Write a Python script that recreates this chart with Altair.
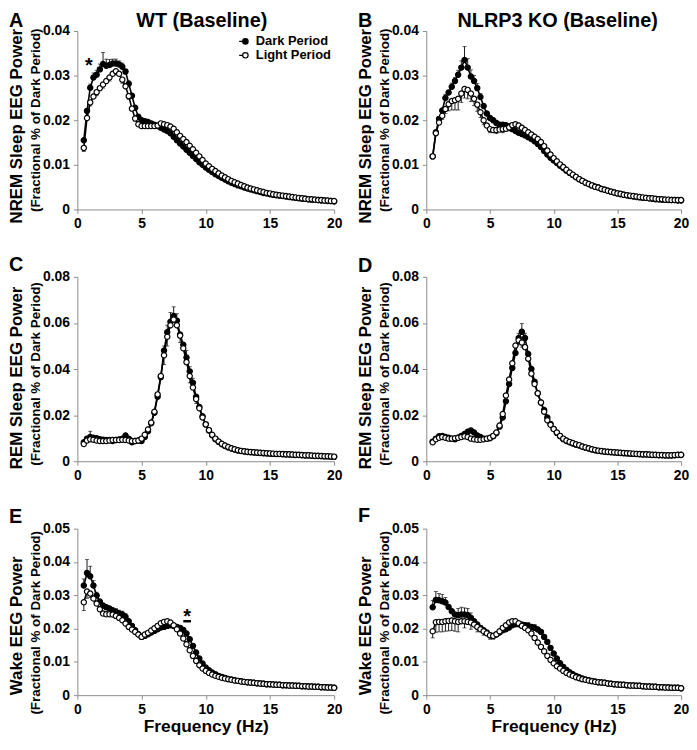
import altair as alt
import pandas as pd

FONT = "Liberation Sans"
PERIODS = ["Dark Period", "Light Period"]

FREQ = [0.5, 0.75, 1.0, 1.25, 1.5, 1.75, 2.0, 2.25, 2.5, 2.75,
        3.0, 3.25, 3.5, 3.75, 4.0, 4.25, 4.5, 4.75, 5.0, 5.25,
        5.5, 5.75, 6.0, 6.25, 6.5, 6.75, 7.0, 7.25, 7.5, 7.75,
        8.0, 8.25, 8.5, 8.75, 9.0, 9.25, 9.5, 9.75, 10.0, 10.25,
        10.5, 10.75, 11.0, 11.25, 11.5, 11.75, 12.0, 12.25, 12.5, 12.75,
        13.0, 13.25, 13.5, 13.75, 14.0, 14.25, 14.5, 14.75, 15.0, 15.25,
        15.5, 15.75, 16.0, 16.25, 16.5, 16.75, 17.0, 17.25, 17.5, 17.75,
        18.0, 18.25, 18.5, 18.75, 19.0, 19.25, 19.5, 19.75, 20.0]

NREM_WT_DARK = [0.0155, 0.0221, 0.0273, 0.0296, 0.0302, 0.0314, 0.0326, 0.0322, 0.0324, 0.0327,
                0.0327, 0.0325, 0.0320, 0.0309, 0.0282, 0.0255, 0.0228, 0.0208, 0.0200, 0.0198,
                0.0196, 0.0193, 0.0190, 0.0187, 0.0183, 0.0179, 0.0176, 0.0171, 0.0163, 0.0155,
                0.0148, 0.0141, 0.0134, 0.0127, 0.0120, 0.0113, 0.0106, 0.0100, 0.0094, 0.0089,
                0.0084, 0.0079, 0.0075, 0.0071, 0.0067, 0.0063, 0.0060, 0.0057, 0.0054, 0.0052,
                0.0049, 0.0047, 0.0045, 0.0043, 0.0041, 0.0039, 0.0037, 0.0036, 0.0034, 0.0033,
                0.0032, 0.0031, 0.0030, 0.0029, 0.0028, 0.0027, 0.0026, 0.0025, 0.0024, 0.0024,
                0.0023, 0.0022, 0.0022, 0.0021, 0.0020, 0.0020, 0.0019, 0.0019, 0.0018]
NREM_WT_LIGHT = [0.0138, 0.0205, 0.0240, 0.0253, 0.0263, 0.0272, 0.0280, 0.0288, 0.0296, 0.0304,
                 0.0310, 0.0304, 0.0291, 0.0276, 0.0254, 0.0226, 0.0204, 0.0191, 0.0187, 0.0187,
                 0.0187, 0.0187, 0.0187, 0.0188, 0.0193, 0.0191, 0.0189, 0.0186, 0.0181, 0.0173,
                 0.0165, 0.0158, 0.0151, 0.0143, 0.0135, 0.0127, 0.0119, 0.0111, 0.0103, 0.0097,
                 0.0091, 0.0086, 0.0081, 0.0076, 0.0072, 0.0068, 0.0064, 0.0061, 0.0058, 0.0055,
                 0.0052, 0.0049, 0.0047, 0.0045, 0.0043, 0.0041, 0.0039, 0.0037, 0.0036, 0.0034,
                 0.0033, 0.0032, 0.0031, 0.0030, 0.0029, 0.0028, 0.0027, 0.0026, 0.0025, 0.0024,
                 0.0023, 0.0023, 0.0022, 0.0021, 0.0021, 0.0020, 0.0020, 0.0019, 0.0019]

NREM_KO_DARK = [0.0119, 0.0173, 0.0203, 0.0222, 0.0250, 0.0262, 0.0275, 0.0288, 0.0302, 0.0318,
                0.0335, 0.0318, 0.0298, 0.0288, 0.0272, 0.0252, 0.0232, 0.0215, 0.0205, 0.0200,
                0.0194, 0.0190, 0.0190, 0.0189, 0.0186, 0.0180, 0.0176, 0.0172, 0.0169, 0.0166,
                0.0162, 0.0158, 0.0153, 0.0147, 0.0140, 0.0131, 0.0123, 0.0116, 0.0110, 0.0104,
                0.0098, 0.0093, 0.0087, 0.0082, 0.0077, 0.0072, 0.0068, 0.0064, 0.0060, 0.0057,
                0.0054, 0.0051, 0.0049, 0.0046, 0.0044, 0.0042, 0.0040, 0.0038, 0.0036, 0.0034,
                0.0033, 0.0032, 0.0030, 0.0029, 0.0028, 0.0027, 0.0026, 0.0026, 0.0025, 0.0024,
                0.0023, 0.0023, 0.0022, 0.0022, 0.0021, 0.0021, 0.0021, 0.0020, 0.0020]
NREM_KO_LIGHT = [0.0119, 0.0171, 0.0195, 0.0210, 0.0225, 0.0236, 0.0243, 0.0245, 0.0248, 0.0260,
                 0.0270, 0.0268, 0.0260, 0.0248, 0.0235, 0.0218, 0.0200, 0.0188, 0.0180, 0.0178,
                 0.0178, 0.0179, 0.0180, 0.0181, 0.0184, 0.0189, 0.0191, 0.0188, 0.0183, 0.0178,
                 0.0173, 0.0168, 0.0163, 0.0158, 0.0151, 0.0142, 0.0132, 0.0123, 0.0115, 0.0108,
                 0.0101, 0.0095, 0.0089, 0.0083, 0.0078, 0.0073, 0.0068, 0.0064, 0.0060, 0.0057,
                 0.0054, 0.0051, 0.0049, 0.0046, 0.0044, 0.0042, 0.0040, 0.0038, 0.0036, 0.0035,
                 0.0033, 0.0032, 0.0031, 0.0030, 0.0029, 0.0028, 0.0027, 0.0026, 0.0025, 0.0025,
                 0.0024, 0.0023, 0.0023, 0.0022, 0.0022, 0.0021, 0.0021, 0.0021, 0.0021]

REM_WT_DARK = [0.0082, 0.0098, 0.0105, 0.0102, 0.0100, 0.0095, 0.0093, 0.0092, 0.0092, 0.0088,
               0.0092, 0.0094, 0.0098, 0.0112, 0.0098, 0.0082, 0.0088, 0.0090, 0.0088, 0.0105,
               0.0130, 0.0165, 0.0210, 0.0280, 0.0365, 0.0480, 0.0560, 0.0605, 0.0630, 0.0610,
               0.0550, 0.0505, 0.0450, 0.0390, 0.0340, 0.0280, 0.0235, 0.0195, 0.0160, 0.0133,
               0.0113, 0.0096, 0.0084, 0.0074, 0.0066, 0.0060, 0.0055, 0.0051, 0.0047, 0.0044,
               0.0042, 0.0040, 0.0039, 0.0038, 0.0037, 0.0036, 0.0035, 0.0034, 0.0033, 0.0032,
               0.0031, 0.0031, 0.0030, 0.0029, 0.0029, 0.0028, 0.0027, 0.0027, 0.0026, 0.0025,
               0.0025, 0.0024, 0.0023, 0.0023, 0.0022, 0.0021, 0.0021, 0.0020, 0.0019]
REM_WT_LIGHT = [0.0075, 0.0090, 0.0095, 0.0093, 0.0090, 0.0088, 0.0088, 0.0088, 0.0090, 0.0092,
                0.0092, 0.0092, 0.0093, 0.0092, 0.0090, 0.0088, 0.0088, 0.0090, 0.0098, 0.0115,
                0.0138, 0.0168, 0.0215, 0.0290, 0.0370, 0.0460, 0.0540, 0.0590, 0.0615, 0.0590,
                0.0545, 0.0490, 0.0430, 0.0370, 0.0320, 0.0270, 0.0230, 0.0190, 0.0160, 0.0135,
                0.0115, 0.0098, 0.0086, 0.0076, 0.0068, 0.0062, 0.0056, 0.0052, 0.0048, 0.0045,
                0.0043, 0.0041, 0.0040, 0.0039, 0.0038, 0.0037, 0.0036, 0.0035, 0.0034, 0.0033,
                0.0032, 0.0032, 0.0031, 0.0030, 0.0030, 0.0029, 0.0028, 0.0028, 0.0027, 0.0026,
                0.0026, 0.0025, 0.0024, 0.0024, 0.0023, 0.0022, 0.0022, 0.0021, 0.0020]

REM_KO_DARK = [0.0085, 0.0098, 0.0108, 0.0110, 0.0105, 0.0102, 0.0098, 0.0095, 0.0102, 0.0110,
               0.0118, 0.0128, 0.0133, 0.0125, 0.0112, 0.0105, 0.0098, 0.0098, 0.0100, 0.0108,
               0.0122, 0.0150, 0.0190, 0.0260, 0.0335, 0.0405, 0.0470, 0.0535, 0.0562, 0.0535,
               0.0465, 0.0400, 0.0345, 0.0295, 0.0255, 0.0222, 0.0190, 0.0162, 0.0140, 0.0123,
               0.0108, 0.0096, 0.0088, 0.0082, 0.0077, 0.0072, 0.0068, 0.0063, 0.0059, 0.0055,
               0.0051, 0.0048, 0.0045, 0.0043, 0.0041, 0.0040, 0.0039, 0.0038, 0.0037, 0.0036,
               0.0035, 0.0034, 0.0033, 0.0032, 0.0031, 0.0030, 0.0029, 0.0029, 0.0028, 0.0027,
               0.0027, 0.0026, 0.0026, 0.0025, 0.0025, 0.0025, 0.0026, 0.0027, 0.0027]
REM_KO_LIGHT = [0.0082, 0.0095, 0.0102, 0.0105, 0.0102, 0.0098, 0.0098, 0.0100, 0.0102, 0.0105,
                0.0108, 0.0105, 0.0098, 0.0095, 0.0093, 0.0093, 0.0095, 0.0098, 0.0102, 0.0110,
                0.0125, 0.0155, 0.0205, 0.0285, 0.0355, 0.0425, 0.0502, 0.0525, 0.0515, 0.0495,
                0.0445, 0.0380, 0.0335, 0.0295, 0.0255, 0.0215, 0.0178, 0.0158, 0.0140, 0.0125,
                0.0110, 0.0098, 0.0090, 0.0084, 0.0079, 0.0074, 0.0070, 0.0064, 0.0060, 0.0056,
                0.0052, 0.0049, 0.0046, 0.0044, 0.0042, 0.0041, 0.0040, 0.0039, 0.0038, 0.0037,
                0.0036, 0.0035, 0.0034, 0.0033, 0.0032, 0.0031, 0.0030, 0.0030, 0.0029, 0.0028,
                0.0028, 0.0027, 0.0027, 0.0026, 0.0026, 0.0026, 0.0027, 0.0028, 0.0028]

WAKE_WT_DARK = [0.0329, 0.0367, 0.0357, 0.0329, 0.0299, 0.0281, 0.0269, 0.0264, 0.0260, 0.0255,
                0.0250, 0.0245, 0.0242, 0.0235, 0.0222, 0.0208, 0.0195, 0.0183, 0.0175, 0.0178,
                0.0183, 0.0188, 0.0193, 0.0198, 0.0203, 0.0205, 0.0208, 0.0210, 0.0208, 0.0205,
                0.0202, 0.0196, 0.0185, 0.0168, 0.0148, 0.0128, 0.0110, 0.0095, 0.0083, 0.0075,
                0.0068, 0.0063, 0.0058, 0.0055, 0.0052, 0.0049, 0.0047, 0.0045, 0.0043, 0.0042,
                0.0040, 0.0039, 0.0038, 0.0037, 0.0036, 0.0035, 0.0034, 0.0033, 0.0033, 0.0032,
                0.0031, 0.0031, 0.0030, 0.0030, 0.0029, 0.0029, 0.0028, 0.0028, 0.0027, 0.0027,
                0.0026, 0.0026, 0.0025, 0.0025, 0.0024, 0.0024, 0.0023, 0.0023, 0.0022]
WAKE_WT_LIGHT = [0.0279, 0.0311, 0.0305, 0.0290, 0.0275, 0.0258, 0.0245, 0.0243, 0.0243, 0.0242,
                 0.0238, 0.0232, 0.0225, 0.0215, 0.0205, 0.0197, 0.0190, 0.0182, 0.0175, 0.0182,
                 0.0187, 0.0194, 0.0201, 0.0208, 0.0216, 0.0220, 0.0222, 0.0218, 0.0210, 0.0198,
                 0.0185, 0.0170, 0.0153, 0.0135, 0.0118, 0.0103, 0.0090, 0.0080, 0.0073, 0.0067,
                 0.0062, 0.0058, 0.0055, 0.0052, 0.0050, 0.0048, 0.0046, 0.0044, 0.0043, 0.0041,
                 0.0040, 0.0039, 0.0038, 0.0037, 0.0036, 0.0035, 0.0034, 0.0033, 0.0033, 0.0032,
                 0.0031, 0.0031, 0.0030, 0.0030, 0.0029, 0.0029, 0.0028, 0.0028, 0.0027, 0.0027,
                 0.0026, 0.0026, 0.0025, 0.0025, 0.0024, 0.0024, 0.0023, 0.0023, 0.0022]

WAKE_KO_DARK = [0.0264, 0.0286, 0.0285, 0.0282, 0.0278, 0.0265, 0.0252, 0.0242, 0.0240, 0.0242,
                0.0242, 0.0240, 0.0232, 0.0222, 0.0212, 0.0202, 0.0195, 0.0188, 0.0180, 0.0178,
                0.0182, 0.0188, 0.0195, 0.0198, 0.0203, 0.0210, 0.0213, 0.0213, 0.0212, 0.0210,
                0.0208, 0.0205, 0.0202, 0.0197, 0.0190, 0.0175, 0.0160, 0.0142, 0.0125, 0.0110,
                0.0096, 0.0085, 0.0076, 0.0069, 0.0063, 0.0058, 0.0054, 0.0050, 0.0047, 0.0045,
                0.0043, 0.0041, 0.0039, 0.0038, 0.0037, 0.0035, 0.0034, 0.0033, 0.0032, 0.0031,
                0.0031, 0.0030, 0.0029, 0.0029, 0.0028, 0.0028, 0.0027, 0.0026, 0.0026, 0.0025,
                0.0025, 0.0024, 0.0024, 0.0023, 0.0023, 0.0022, 0.0022, 0.0022, 0.0021]
WAKE_KO_LIGHT = [0.0192, 0.0219, 0.0220, 0.0220, 0.0222, 0.0223, 0.0224, 0.0222, 0.0220, 0.0222,
                 0.0222, 0.0220, 0.0218, 0.0212, 0.0205, 0.0198, 0.0192, 0.0186, 0.0180, 0.0178,
                 0.0183, 0.0192, 0.0202, 0.0210, 0.0218, 0.0222, 0.0222, 0.0216, 0.0208, 0.0202,
                 0.0195, 0.0185, 0.0172, 0.0158, 0.0145, 0.0132, 0.0118, 0.0106, 0.0096, 0.0087,
                 0.0080, 0.0073, 0.0067, 0.0062, 0.0058, 0.0054, 0.0051, 0.0048, 0.0046, 0.0044,
                 0.0042, 0.0040, 0.0039, 0.0038, 0.0037, 0.0035, 0.0034, 0.0033, 0.0032, 0.0031,
                 0.0031, 0.0030, 0.0029, 0.0029, 0.0028, 0.0028, 0.0027, 0.0026, 0.0026, 0.0025,
                 0.0025, 0.0024, 0.0024, 0.0023, 0.0023, 0.0022, 0.0022, 0.0022, 0.0021]

# SEM error bars (frequency, SEM); dark period drawn upward, light period downward
ERR_NREM_WT_DARK = [(1.0, 0.0008), (1.25, 0.001), (1.5, 0.001), (1.75, 0.0012), (2.0, 0.0026),
                    (2.25, 0.0015), (2.5, 0.0012), (2.75, 0.001), (3.0, 0.001), (3.25, 0.0008),
                    (3.5, 0.0008), (3.75, 0.0006), (4.0, 0.0006)]
ERR_NREM_WT_LIGHT = [(0.5, 0.0008), (1.0, 0.0008), (1.5, 0.0008), (2.0, 0.0008), (2.5, 0.0008),
                     (3.0, 0.0008), (3.5, 0.0008), (4.0, 0.0007), (4.5, 0.0006), (5.0, 0.0005)]
ERR_NREM_KO_DARK = [(1.5, 0.0008), (2.0, 0.0008), (2.25, 0.0008), (2.5, 0.001), (2.75, 0.0015),
                    (3.0, 0.003), (3.25, 0.002), (3.5, 0.0015), (3.75, 0.0012), (4.0, 0.001),
                    (4.25, 0.0008)]
ERR_NREM_KO_LIGHT = [(1.25, 0.0008), (1.5, 0.001), (1.75, 0.0015), (2.0, 0.002), (2.25, 0.0022),
                     (2.5, 0.0025), (2.75, 0.002), (3.0, 0.002), (3.25, 0.002), (3.5, 0.0018),
                     (3.75, 0.0015), (4.0, 0.0015), (4.25, 0.0012), (4.5, 0.001), (5.0, 0.0008),
                     (5.5, 0.0008), (6.0, 0.0008), (6.5, 0.0008), (7.0, 0.001), (7.5, 0.0008)]
ERR_REM_WT_DARK = [(1.0, 0.0025), (6.75, 0.002), (7.0, 0.003), (7.25, 0.004), (7.5, 0.004),
                   (7.75, 0.003), (8.5, 0.003), (8.75, 0.002), (9.0, 0.002)]
ERR_REM_WT_LIGHT = [(6.75, 0.004), (7.0, 0.004), (8.0, 0.003), (8.75, 0.003), (9.25, 0.002)]
ERR_REM_KO_DARK = [(3.5, 0.001), (7.25, 0.002), (7.5, 0.0035), (7.75, 0.002)]
ERR_REM_KO_LIGHT = [(7.25, 0.002), (7.5, 0.002)]
ERR_WAKE_WT_DARK = [(0.5, 0.002), (0.75, 0.004), (1.0, 0.003), (1.25, 0.0015), (1.5, 0.001),
                    (3.0, 0.001), (3.25, 0.001), (3.5, 0.001), (3.75, 0.001), (6.5, 0.001),
                    (6.75, 0.001)]
ERR_WAKE_WT_LIGHT = [(0.5, 0.0025), (0.75, 0.002), (1.0, 0.0012)]
ERR_WAKE_KO_DARK = [(0.5, 0.002), (0.75, 0.0025), (1.0, 0.002), (1.25, 0.002), (1.5, 0.0015),
                    (2.5, 0.002), (2.75, 0.0022), (3.0, 0.002), (3.25, 0.002), (3.5, 0.0015),
                    (7.0, 0.0012), (8.0, 0.001), (8.5, 0.001)]
ERR_WAKE_KO_LIGHT = [(0.5, 0.002), (0.75, 0.003), (1.0, 0.003), (1.25, 0.003), (1.5, 0.003),
                     (1.75, 0.003), (2.0, 0.003), (2.25, 0.003), (2.5, 0.003), (3.0, 0.002),
                     (3.5, 0.002), (4.0, 0.0015), (4.5, 0.0012), (5.0, 0.0012), (5.25, 0.001),
                     (6.75, 0.0012), (7.0, 0.0012)]

X_TICKS = [0, 5, 10, 15, 20]
Y_TICKS_NREM = [0, 0.01, 0.02, 0.03, 0.04]
Y_TICKS_REM = [0, 0.02, 0.04, 0.06, 0.08]
Y_TICKS_WAKE = [0, 0.01, 0.02, 0.03, 0.04, 0.05]

STAR_A = {"freq": [0.9], "value": [0.0333]}
STAR_E = {"freq": [8.55], "value": [0.0250]}
BAR_E = {"f1": [8.25], "f2": [8.85], "value": [0.0222]}

LEGEND_SYMBOL = "M-2.3,0L-1,0M1,0A1,1,0,1,1,-1,0A1,1,0,1,1,1,0Z"

for s in [NREM_WT_DARK, NREM_WT_LIGHT, NREM_KO_DARK, NREM_KO_LIGHT, REM_WT_DARK, REM_WT_LIGHT,
          REM_KO_DARK, REM_KO_LIGHT, WAKE_WT_DARK, WAKE_WT_LIGHT, WAKE_KO_DARK, WAKE_KO_LIGHT]:
    assert len(s) == len(FREQ), len(s)


def panel(letter, dark, light, dark_err, light_err, ymax, yticks, ytitle, w, h,
          title=None, title_dx=0, xtitle=None, legend=False, t1dy=0, t2dy=0,
          letter_dy=-4, star=None, bar=None):
    rows = [{"freq": f, "value": v, "period": PERIODS[0]} for f, v in zip(FREQ, dark)]
    rows += [{"freq": f, "value": v, "period": PERIODS[1]} for f, v in zip(FREQ, light)]
    df = pd.DataFrame(rows)
    err = []
    for f, s in dark_err:
        v = dark[FREQ.index(f)]
        err.append({"freq": f, "lo": v, "hi": v + s, "cap": v + s})
    for f, s in light_err:
        v = light[FREQ.index(f)]
        err.append({"freq": f, "lo": v - s, "hi": v, "cap": v - s})
    errdf = pd.DataFrame(err)

    xax_kw = dict(values=X_TICKS, grid=False, labelFlush=False, domainColor="#8c8c8c",
                  tickColor="#8c8c8c", tickSize=4, labelFont=FONT, labelFontSize=14,
                  labelFontWeight="bold", labelColor="black", labelPadding=3)
    if xtitle:
        xax = alt.Axis(title=xtitle, titleFont=FONT, titleFontSize=17.5, titleFontWeight="bold",
                       titleColor="black", titlePadding=2, **xax_kw)
    else:
        xax = alt.Axis(title=None, **xax_kw)
    yax = alt.Axis(values=yticks, format=".2~f", title=None, grid=False, domainColor="#8c8c8c",
                   tickColor="#8c8c8c", tickSize=4, labelFont=FONT, labelFontSize=14,
                   labelFontWeight="bold", labelColor="black", labelPadding=4)
    xs = alt.Scale(domain=[0, 20], nice=False)
    ys = alt.Scale(domain=[0, ymax], nice=False)

    def X(field):
        return alt.X(field, type="quantitative", scale=xs, axis=xax)

    def Y(field):
        return alt.Y(field, type="quantitative", scale=ys, axis=yax)

    base = alt.Chart(df)
    line = base.mark_line(color="black", strokeWidth=1.6).encode(
        x=X("freq"), y=Y("value"), detail="period:N")
    rule = alt.Chart(errdf).mark_rule(color="black", strokeWidth=0.9).encode(
        x=X("freq"), y=Y("lo"), y2="hi")
    cap = alt.Chart(errdf).mark_tick(color="black", orient="horizontal", size=4,
                                     thickness=0.9).encode(x=X("freq"), y=Y("cap"))
    if legend:
        leg = alt.Legend(title=None, orient="none", legendX=163, legendY=4, direction="vertical",
                         labelFont=FONT, labelFontSize=13, labelFontWeight="bold",
                         labelColor="black", symbolType=LEGEND_SYMBOL, symbolSize=30,
                         symbolStrokeColor="black", symbolStrokeWidth=1.2, rowPadding=0,
                         labelOffset=4, padding=0)
    else:
        leg = None
    pts = base.mark_point(shape="circle", filled=False, color="black", size=28,
                          strokeWidth=1.2, opacity=1).encode(
        x=X("freq"), y=Y("value"),
        fill=alt.Fill("period:N", scale=alt.Scale(domain=PERIODS, range=["black", "white"]),
                      legend=leg))
    layers = [line, rule, cap, pts]

    def txt(text, size, x, y, angle=0, align="left"):
        kw = dict(font=FONT, fontSize=size, fontWeight="bold", color="black",
                  align=align, baseline="alphabetic")
        if angle:
            kw["angle"] = angle
        return alt.Chart(pd.DataFrame({"t": [text]})).mark_text(**kw).encode(
            text="t:N", x=alt.value(x), y=alt.value(y))

    layers.append(txt(letter, 20, -69, letter_dy))
    if title:
        layers.append(txt(title, 20, w / 2 + title_dx, -4, align="center"))
    layers.append(txt(ytitle, 17, -55.5, h / 2 + t1dy, angle=270, align="center"))
    layers.append(txt("(Fractional % of Dark Period)", 13.5, -38, h / 2 + t2dy,
                      angle=270, align="center"))
    if star:
        layers.append(alt.Chart(pd.DataFrame(star)).mark_text(
            text="*", font=FONT, fontSize=20, fontWeight="bold", color="black",
            baseline="middle", dy=5).encode(x=X("freq"), y=Y("value")))
    if bar:
        layers.append(alt.Chart(pd.DataFrame(bar)).mark_rule(color="black", strokeWidth=2.5).encode(
            x=X("f1"), x2="f2", y=Y("value")))
    return alt.layer(*layers).properties(width=w, height=h)


A = panel("A", NREM_WT_DARK, NREM_WT_LIGHT, ERR_NREM_WT_DARK, ERR_NREM_WT_LIGHT, 0.04,
          Y_TICKS_NREM, "NREM Sleep EEG Power", 259, 180, title="WT (Baseline)", title_dx=-4,
          legend=True, t1dy=6, t2dy=0, letter_dy=-4, star=STAR_A)
B = panel("B", NREM_KO_DARK, NREM_KO_LIGHT, ERR_NREM_KO_DARK, ERR_NREM_KO_LIGHT, 0.04,
          Y_TICKS_NREM, "NREM Sleep EEG Power", 257, 180, title="NLRP3 KO (Baseline)",
          title_dx=4, t1dy=6, t2dy=0, letter_dy=-4)
C = panel("C", REM_WT_DARK, REM_WT_LIGHT, ERR_REM_WT_DARK, ERR_REM_WT_LIGHT, 0.08,
          Y_TICKS_REM, "REM Sleep EEG Power", 259, 186, t1dy=9, t2dy=5, letter_dy=-6)
D = panel("D", REM_KO_DARK, REM_KO_LIGHT, ERR_REM_KO_DARK, ERR_REM_KO_LIGHT, 0.08,
          Y_TICKS_REM, "REM Sleep EEG Power", 257, 186, t1dy=9, t2dy=5, letter_dy=-5)
E = panel("E", WAKE_WT_DARK, WAKE_WT_LIGHT, ERR_WAKE_WT_DARK, ERR_WAKE_WT_LIGHT, 0.05,
          Y_TICKS_WAKE, "Wake EEG Power", 259, 168, xtitle="Frequency (Hz)", t1dy=14, t2dy=11,
          letter_dy=-6, star=STAR_E, bar=BAR_E)
F = panel("F", WAKE_KO_DARK, WAKE_KO_LIGHT, ERR_WAKE_KO_DARK, ERR_WAKE_KO_LIGHT, 0.05,
          Y_TICKS_WAKE, "Wake EEG Power", 257, 168, xtitle="Frequency (Hz)", t1dy=14, t2dy=11,
          letter_dy=-7)

chart = alt.concat(A, B, C, D, E, F, columns=2, spacing={"row": 68, "column": 93},
                   bounds="flush", align="each").resolve_scale(
    x="independent", y="independent", fill="independent"
).resolve_legend(fill="independent").configure_view(stroke=None).properties(
    padding=0, background="white")

chart.save("out.html", embed_options={"renderer": "svg", "actions": False})
